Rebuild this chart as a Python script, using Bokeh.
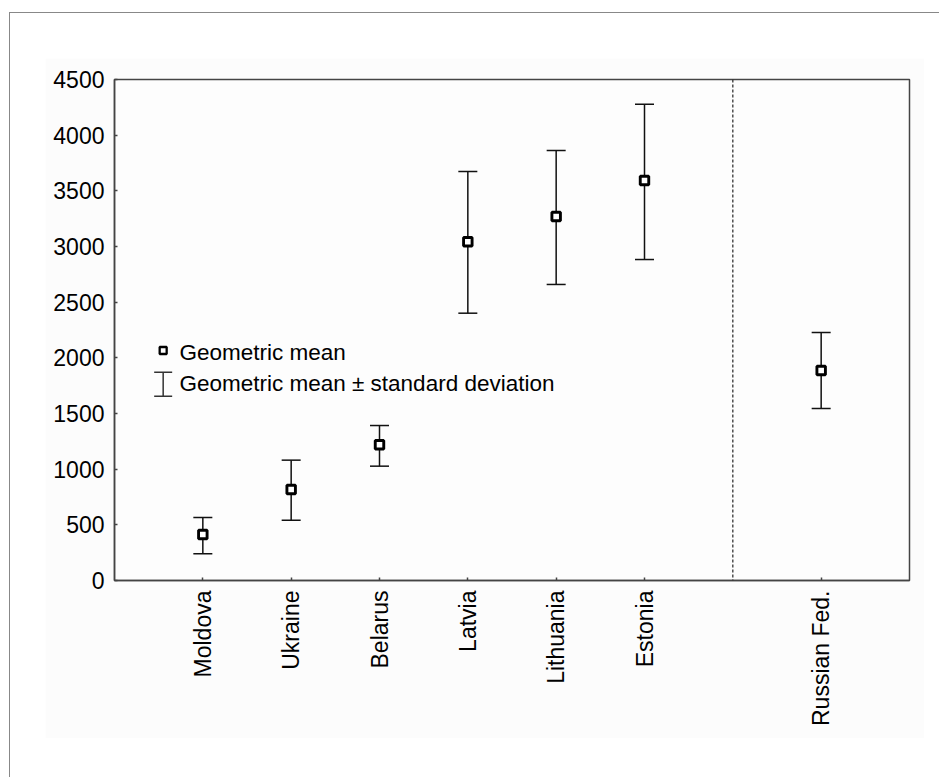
import math
from bokeh.plotting import figure
from bokeh.models import ColumnDataSource, Whisker, TeeHead, Span, FixedTicker, Range1d
from bokeh.layouts import column
from bokeh.embed import file_html
from bokeh.resources import INLINE
from bokeh.core.properties import value

# ---- data ----
countries = ["Moldova", "Ukraine", "Belarus", "Latvia", "Lithuania", "Estonia", "Russian Fed."]
geo_mean = [413, 817, 1219, 3042, 3270, 3593, 1886]
sd_upper = [565, 1081, 1392, 3674, 3862, 4278, 2228]
sd_lower = [240, 542, 1027, 2401, 2659, 2883, 1545]
y_ticks = [0, 500, 1000, 1500, 2000, 2500, 3000, 3500, 4000, 4500]
legend_labels = ["Geometric mean", "Geometric mean \u00b1 standard deviation"]

# slot positions: first group 1..6, gap (separator) then Russian Fed.
n_first = 6
slots = [i + 1 for i in range(n_first)] + [n_first + 2]
separator = n_first + 1

FONT = "Liberation Sans"
AX = "#444444"
FS = "23px"

p = figure(width=879, height=680, x_range=Range1d(0, 9), y_range=Range1d(0, 4500),
           output_backend="svg", toolbar_location=None,
           min_border_left=69, min_border_right=15, min_border_top=21, min_border_bottom=158,
           margin=(45, 0, 0, 35))
p.border_fill_color = "#fcfcfc"
p.background_fill_color = "#fdfdfd"
p.outline_line_color = AX
p.outline_line_width = 1.5
p.xgrid.grid_line_color = None
p.ygrid.grid_line_color = None

for ax in (p.xaxis[0], p.yaxis[0]):
    ax.axis_line_color = AX
    ax.axis_line_width = 1.5
    ax.major_tick_line_color = AX
    ax.major_tick_line_width = 1.5
    ax.major_tick_in = 3
    ax.major_tick_out = 0
    ax.minor_tick_line_color = None
    ax.major_label_text_font = FONT
    ax.major_label_text_font_size = FS
    ax.major_label_text_color = "black"
    ax.major_label_standoff = 10

p.yaxis.ticker = FixedTicker(ticks=y_ticks)
p.xaxis.ticker = FixedTicker(ticks=slots)
p.xaxis.major_label_overrides = {s: c for s, c in zip(slots, countries)}
p.xaxis.major_label_orientation = math.pi / 2

# separator line
p.add_layout(Span(location=separator, dimension="height", line_color="#222222",
                  line_width=1.2, line_dash="3 2"))

src = ColumnDataSource(dict(x=slots, mean=geo_mean, upper=sd_upper, lower=sd_lower))
w = Whisker(base="x", upper="upper", lower="lower", source=src, dimension="height",
            line_color="#111111", line_width=1.5,
            upper_head=TeeHead(size=19, line_color="#111111", line_width=1.5),
            lower_head=TeeHead(size=19, line_color="#111111", line_width=1.5))
w.level = "underlay"
p.add_layout(w)
p.scatter("x", "mean", source=src, marker="square", size=8.5, line_width=2.9,
          line_color="black", fill_color="white")

# ---- legend (drawn inside the plot area) ----
leg_x = 0.551
leg_src = ColumnDataSource(dict(x=[leg_x], upper=[1871], lower=[1655]))
lw = Whisker(base="x", upper="upper", lower="lower", source=leg_src, dimension="height",
             line_color="#333333", line_width=1.5,
             upper_head=TeeHead(size=18, line_color="#333333", line_width=1.5),
             lower_head=TeeHead(size=18, line_color="#333333", line_width=1.5))
lw.level = "underlay"
p.add_layout(lw)
p.scatter(x=[leg_x], y=[2066], marker="square", size=7, line_width=2.3,
          line_color="black", fill_color="white")
p.text(x=[0.735, 0.735], y=[2048, 1772], text=legend_labels,
       text_font=value(FONT), text_font_size="22.5px", text_color="black",
       text_align="left", text_baseline="alphabetic")

layout = column(p, margin=(12, 0, 0, 9),
                styles={"border-left": "1px solid #888888", "border-top": "1px solid #888888",
                        "width": "930px", "height": "765px"})

open("out.html", "w").write(file_html(layout, INLINE))
